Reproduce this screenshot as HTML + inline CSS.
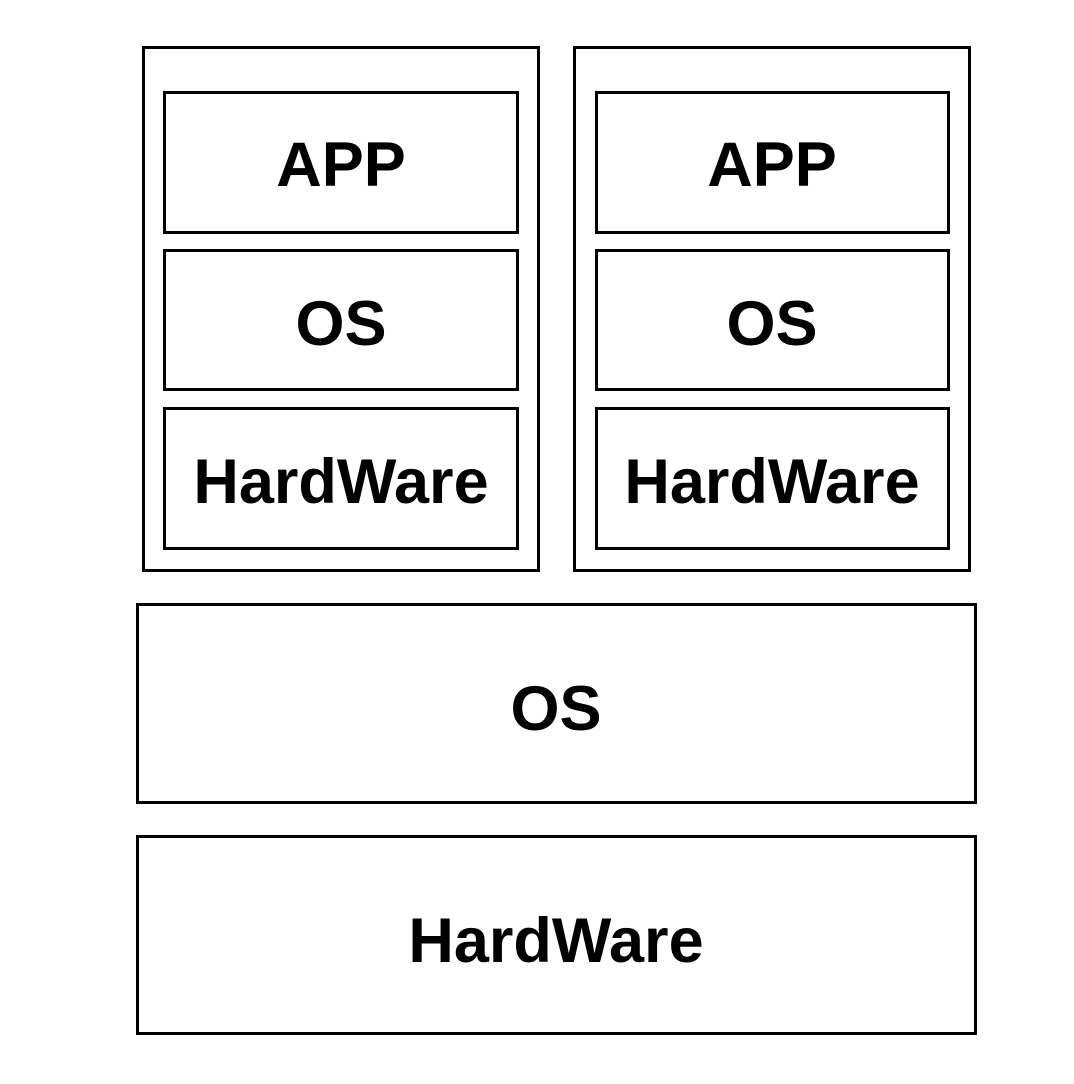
<!DOCTYPE html>
<html><head><style>html,body{margin:0;padding:0;background:#fff}</style></head>
<body>
<svg width="1074" height="1084" xmlns="http://www.w3.org/2000/svg" style="display:block">
<g fill="none" stroke="#000" stroke-width="3">
<rect x="143.5" y="47.5" width="395" height="523"/>
<rect x="574.5" y="47.5" width="395" height="523"/>
<rect x="164.5" y="92.5" width="353" height="140"/>
<rect x="164.5" y="250.5" width="353" height="139"/>
<rect x="164.5" y="408.5" width="353" height="140"/>
<rect x="596.5" y="92.5" width="352" height="140"/>
<rect x="596.5" y="250.5" width="352" height="139"/>
<rect x="596.5" y="408.5" width="352" height="140"/>
<rect x="137.5" y="604.5" width="838" height="198"/>
<rect x="137.5" y="836.5" width="838" height="197"/>
</g>
<g font-family="Liberation Sans, Arial, sans-serif" font-weight="bold" font-size="63" text-anchor="middle" fill="#000">
<text x="341" y="186">APP</text>
<text x="341" y="345">OS</text>
<text x="341" y="503">HardWare</text>
<text x="772" y="186">APP</text>
<text x="772" y="345">OS</text>
<text x="772" y="503">HardWare</text>
<text x="556" y="730">OS</text>
<text x="556" y="962">HardWare</text>
</g>
</svg>
</body></html>
